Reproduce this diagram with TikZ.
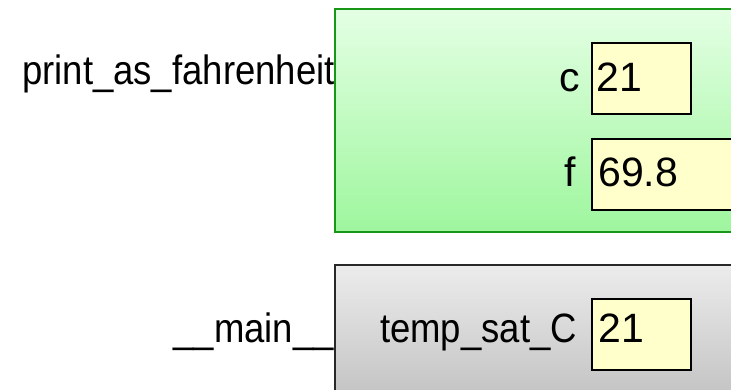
\documentclass[tikz,border=0pt]{standalone}
\usepackage{fontspec}
\usepackage{graphicx}
\setmainfont{Liberation Sans}
\definecolor{frgreen}{RGB}{24,150,24}
\definecolor{grtop}{RGB}{228,255,228}
\definecolor{grbot}{RGB}{158,246,158}
\definecolor{gytop}{RGB}{236,236,236}
\definecolor{gybot}{RGB}{188,188,188}
\definecolor{valfill}{RGB}{255,255,204}
\definecolor{gyline}{RGB}{40,40,40}
\newcommand{\bigtxt}{\fontsize{41}{49}\selectfont}
\newcommand{\sqz}[1]{\scalebox{0.89}[1]{#1}}
\begin{document}
\begin{tikzpicture}[x=1pt,y=-1pt,
  valbox/.style={draw=black,line width=1.8pt,fill=valfill,inner sep=0pt,anchor=north west},
  txt/.style={inner sep=0pt,font=\bigtxt,text=black},
  greenframe/.style={draw=frgreen,line width=1.7pt,top color=grtop,bottom color=grbot},
  grayframe/.style={draw=gyline,line width=1.7pt,top color=gytop,bottom color=gybot}]
\useasboundingbox (0,0) rectangle (731,390);
\begin{scope}
\clip (0,0) rectangle (731,390);
% frames
\path[greenframe] (335,9) rectangle (760,232);
\path[grayframe] (335,265) rectangle (760,420);
% value boxes
\node[valbox,minimum width=99pt,minimum height=71pt] (cbox) at (591,42) {};
\node[valbox,minimum width=180pt,minimum height=71pt] (fbox) at (591,138) {};
\node[valbox,minimum width=99pt,minimum height=71pt] (tbox) at (591,298) {};
% values
\node[txt,anchor=base west] (cval) at (596,92) {21};
\node[txt,anchor=base west] (fval) at (598,187) {69.8};
\node[txt,anchor=base west] (tval) at (598,342) {21};
% variable names
\node[txt,anchor=base east] (cname) at (580,92) {c};
\node[txt,anchor=base east] (fname) at (576,187) {f};
\node[txt,anchor=base east] (tname) at (577,342) {\sqz{temp\_sat\_C}};
% frame labels
\node[txt,anchor=base west] (flabel) at (22,85) {\sqz{print\_as\_fahrenheit}};
\node[txt,anchor=base east] (mlabel) at (334,342) {\sqz{\_\_main\_\_}};
\end{scope}
\end{tikzpicture}
\end{document}
